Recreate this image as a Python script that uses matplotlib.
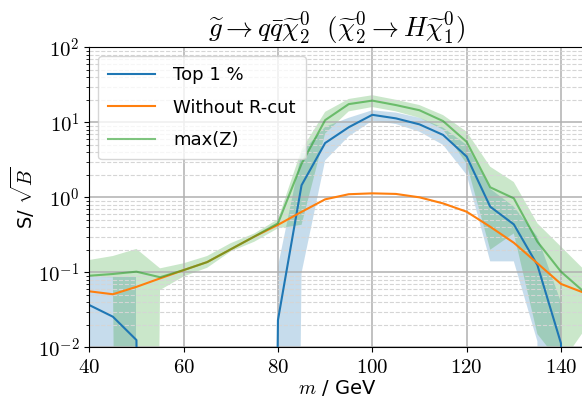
import math
import matplotlib
matplotlib.use('Agg')
import matplotlib.pyplot as plt
import numpy as np
from matplotlib.ticker import FuncFormatter, LogLocator, FixedLocator

plt.rcParams['mathtext.fontset'] = 'cm'
plt.rcParams['font.family'] = ['DejaVu Sans']

# mass points in GeV
masses = [40, 45, 50, 55, 60, 65, 70, 75, 80, 85, 90, 95,
          100, 105, 110, 115, 120, 125, 130, 135, 140, 145]

# Top 1 %
top1 = [0.0366, 0.0256, 0.0125, 0, 0, 0, 0, 0, 0.0231, 1.45, 5.3, 8.6,
        12.6, 11.3, 9.4, 6.8, 3.5, 0.75, 0.436, 0.125, 0.0113, 0]
top1_hi = [0.086, 0.086, 0.086, 0, 0, 0, 0, 0, 0.12, 4.0, 8.7, 11.5,
           14.5, 13.5, 11.5, 8.5, 5.0, 1.3, 0.75, 0.3, 0.04, 0]
top1_lo = [0, 0, 0, 0, 0, 0, 0, 0, 0, 0.098, 3.1, 6.5,
           10.5, 9.5, 7.5, 5.0, 2.0, 0.14, 0.14, 0.012, 0, 0]

# Without R-cut
no_rcut = [0.0558, 0.051, 0.064, 0.083, 0.107, 0.137, 0.203, 0.30, 0.43, 0.64, 0.94, 1.1,
           1.13, 1.11, 1.0, 0.83, 0.643, 0.405, 0.248, 0.132, 0.070, 0.053]

# max(Z)
maxz = [0.090, 0.095, 0.102, 0.086, 0.107, 0.137, 0.203, 0.30, 0.45, 2.8, 10.7, 17.5,
        19.5, 17.0, 14.5, 10.4, 5.5, 1.36, 0.97, 0.256, 0.102, 0.054]
maxz_hi = [0.146, 0.165, 0.205, 0.113, 0.132, 0.165, 0.245, 0.33, 0.51, 4.3, 13.8, 20.5,
           23.0, 20.0, 17.0, 12.5, 7.5, 2.56, 1.6, 0.45, 0.22, 0.107]
maxz_lo = [0.087, 0.086, 0, 0.058, 0.088, 0.115, 0.19, 0.256, 0.386, 0.43, 7.1, 14.0,
           16.0, 14.0, 11.5, 8.0, 2.8, 0.2, 0.33, 0.015, 0.006, 0.017]

def floor(v):
    # zeros would vanish on the log axis, push them far below instead
    return np.maximum(np.array(v, dtype=float), 1e-30)

fig = plt.figure(figsize=(5.82, 4.01), dpi=100)
ax = fig.add_axes([0.1534, 0.1339, 0.851, 0.748])
ax.set_yscale('log')

# bands, split where the upper edge is empty
blue_on = np.array(top1_hi) > 0
ax.fill_between(masses, floor(top1_lo), floor(top1_hi), where=blue_on,
                color='C0', alpha=0.25, lw=0)
ax.fill_between(masses, floor(maxz_lo), floor(maxz_hi), color='C2', alpha=0.25, lw=0)
ax.plot(masses, floor(top1), color='C0', lw=1.5, label='Top 1 %')
ax.plot(masses, no_rcut, color='C1', lw=1.5, label='Without R-cut')
ax.plot(masses, maxz, color='C2', alpha=0.6, lw=1.5, label='max(Z)')

ax.set_xlim(40, 145)
ax.set_ylim(1e-2, 1e2)

#grid
ax.xaxis.set_major_locator(FixedLocator([40, 60, 80, 100, 120, 140]))
ax.yaxis.set_major_locator(LogLocator(base=10, numticks=10))
ax.yaxis.set_minor_locator(LogLocator(base=10, subs=range(2, 10), numticks=20))
ax.grid(which='major', color='#b0b0b0', lw=1.1)
ax.grid(which='minor', axis='y', color='#d5d5d5', lw=0.8, ls='--')

ax.xaxis.set_major_formatter(FuncFormatter(lambda v, p: r'$%d$' % v))
ax.yaxis.set_major_formatter(FuncFormatter(lambda v, p: r'$10^{%d}$' % round(math.log10(v))))
ax.yaxis.set_minor_formatter(FuncFormatter(lambda v, p: ''))
ax.tick_params(labelsize=15)

ax.set_title(r'$\widetilde{g} \rightarrow q\bar{q}\widetilde{\chi}_2^0\ \ '
             r'(\widetilde{\chi}_2^0 \rightarrow H\widetilde{\chi}_1^0)$', fontsize=19.5)
ax.set_xlabel(r'$m$ / GeV', fontsize=14, labelpad=1)
ax.set_ylabel(r'S/ $\sqrt{B}$', fontsize=14, labelpad=0.5)
ax.legend(loc='upper left', fontsize=13, labelspacing=0.8, handlelength=2.6,
          handletextpad=1.0, borderpad=0.55)

fig.savefig('out.png', dpi=100)
